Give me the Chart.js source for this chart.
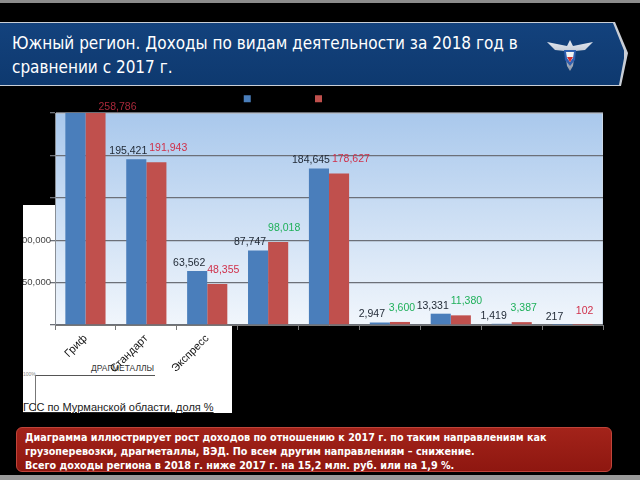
<!DOCTYPE html>
<html lang="ru">
<head>
<meta charset="utf-8">
<script src="https://cdn.jsdelivr.net/npm/chart.js@4.4.1/dist/chart.umd.min.js"></script>
<style>
  html, body { margin: 0; padding: 0; }
  body { width: 640px; height: 480px; background: #000; position: relative; overflow: hidden; font-family: "DejaVu Sans Condensed", "DejaVu Sans", sans-serif; }
  #topstrip { position: absolute; left: 0; top: 0; width: 640px; height: 3px; background: #8c8c8c; }
  #botstrip { position: absolute; left: 0; top: 475px; width: 640px; height: 5px; background: #9a9a9a; }
  #banner { position: absolute; left: 0; top: 22px; width: 628px; height: 64px;
    background: #c9ced6;
    clip-path: polygon(0 0, 615px 0, 628px 31px, 621px 64px, 0 64px); }
  #bannerInner { position: absolute; left: 0; top: 23px; width: 624px; height: 62px;
    background: linear-gradient(#13427d, #0e396f);
    clip-path: polygon(0 0, 613px 0, 625px 30px, 619px 62px, 0 62px); }
  #title { position: absolute; left: 12px; top: 31px; color: #fff; font-size: 17px; line-height: 24px; white-space: nowrap; }
  #logo { position: absolute; left: 545px; top: 36px; width: 50px; height: 36px; }
  #panel { position: absolute; left: 23px; top: 205px; width: 209px; height: 208px; background: #fff; overflow: hidden; }
  #drag { position: absolute; left: 68px; top: 158px; font-family: "Liberation Sans", sans-serif; font-size: 8.5px; color: #333; }
  #hline { position: absolute; left: 12px; top: 170px; width: 120px; height: 1px; background: #555; }
  #vline { position: absolute; left: 12px; top: 170px; width: 1px; height: 36px; background: #777; }
  #pct { position: absolute; left: 0px; top: 166px; font-family: "Liberation Sans", sans-serif; font-size: 5px; color: #888; }
  #gss { position: absolute; left: 0px; top: 196px; font-family: "Liberation Sans", sans-serif; font-size: 11px; color: #222; text-decoration: underline; white-space: nowrap; }
  #chartWrap { position: absolute; left: 23px; top: 88px; width: 600px; height: 330px; }
  #note { position: absolute; left: 16px; top: 427px; width: 596px; height: 45px; box-sizing: border-box;
    background: linear-gradient(#a3231a, #8e1710); border: 1px solid #c0443a; border-radius: 6px;
    color: #fff; font-family: "DejaVu Sans Condensed", sans-serif; font-weight: bold; font-size: 10.7px; line-height: 14px; padding: 3px 0 0 8px; white-space: nowrap; }
</style>
</head>
<body>
<div id="topstrip"></div>
<div id="banner"></div>
<div id="bannerInner"></div>
<div id="title">Южный регион. Доходы по видам деятельности за 2018 год в<br>сравнении с 2017 г.</div>
<svg id="logo" viewBox="0 0 50 36">
  <defs>
    <linearGradient id="wing" x1="0" y1="0" x2="0" y2="1">
      <stop offset="0" stop-color="#e6ebf2"/><stop offset="1" stop-color="#8c97a8"/>
    </linearGradient>
  </defs>
  <path d="M2 6 L22 10 L25 4 L28 10 L48 6 L40 14 L30 15 L28 30 L25 35 L22 30 L20 15 L10 14 Z" fill="url(#wing)"/>
  <path d="M19 14 L31 14 L30 24 L25 30 L20 24 Z" fill="#2f5fb0"/>
  <path d="M21 16 L29 16 L28 22 L25 26 L22 22 Z" fill="#f3f3f3"/>
  <path d="M22 21 L28 21 L25 26 Z" fill="#d33030"/>
</svg>
<div id="panel">
  <div id="drag">ДРАГМЕТАЛЛЫ</div>
  <div id="hline"></div>
  <div id="vline"></div>
  <div id="pct">100%</div>
  <div id="gss">ГСС по Мурманской области, доля %</div>
</div>
<div id="chartWrap"><canvas id="c" width="600" height="330"></canvas></div>
<div id="note">Диаграмма иллюстрирует рост доходов по отношению к 2017 г. по таким направлениям как<br>грузоперевозки, драгметаллы, ВЭД. По всем другим направлениям – снижение.<br>Всего доходы региона в 2018 г. ниже 2017 г. на 15,2 млн. руб. или на 1,9 %.</div>
<div id="botstrip"></div>

<script>
// ---- data ----
const categories = ["Гриф", "Стандарт", "Экспресс", "Грузоперевозки", "Посылки", "Драгметаллы", "Инкассация", "ВЭД", "Прочее"];
const series2017 = [261500, 195421, 63562, 87747, 184645, 2947, 13331, 1419, 217];
const series2018 = [258786, 191943, 48355, 98018, 178627, 3600, 11380, 3387, 102];
const seriesNames = ["2017 год", "2018 год"];
const yTicks = [0, 50000, 100000, 150000, 200000, 250000];

// ---- styles ----
const labelColors2018 = ["#a8283a", "#d0304a", "#d0304a", "#1fb05a", "#d0304a", "#1fb05a", "#1fb05a", "#1fb05a", "#d0304a"];
const visibleXLabels = 3;      // tick labels that lie on the white underlay
const visibleYMax = 100000;    // y tick labels that lie on the white underlay

const bgPlugin = {
  id: "plotBg",
  beforeDraw(chart) {
    const { ctx, chartArea: a } = chart;
    const g = ctx.createLinearGradient(0, a.top, 0, a.bottom);
    g.addColorStop(0, "#a9c8ec");
    g.addColorStop(1, "#f1f6fc");
    ctx.save();
    ctx.fillStyle = g;
    ctx.fillRect(a.left, a.top, a.right - a.left, a.bottom - a.top);
    ctx.strokeStyle = "#c9d6e6";
    ctx.lineWidth = 1;
    ctx.strokeRect(a.left + 0.5, a.top + 0.5, a.right - a.left - 1, a.bottom - a.top);
    ctx.restore();
  }
};

const legendFit = {
  id: "legendFit",
  beforeInit(chart) {
    const fit = chart.legend.fit;
    chart.legend.fit = function () { fit.bind(chart.legend)(); this.height = 25; };
  }
};

const valueLabels = {
  id: "valueLabels",
  afterDatasetsDraw(chart) {
    const { ctx, chartArea: a } = chart;
    ctx.save();
    ctx.font = "10.5px 'Liberation Sans', sans-serif";
    ctx.textAlign = "center";
    ctx.textBaseline = "middle";
    const blueMeta = chart.getDatasetMeta(0).data;
    const redMeta = chart.getDatasetMeta(1).data;
    const d0 = chart.data.datasets[0].data;
    const d1 = chart.data.datasets[1].data;
    blueMeta.forEach((bar, i) => {
      const t0 = d0[i].toLocaleString("en-US");
      const t1 = d1[i].toLocaleString("en-US");
      const bx = bar.x - 8;
      const bRight = bx + ctx.measureText(t0).width / 2;
      if (bar.y >= a.top) {
        ctx.fillStyle = "#1e2733";
        ctx.fillText(t0, bx, bar.y - 8);
      }
      const rb = redMeta[i];
      const half = ctx.measureText(t1).width / 2;
      const clipped = rb.y < a.top;
      let rx = clipped ? rb.x + 22 : Math.max(rb.x + 2, bRight + 2 + half);
      rx = Math.min(rx, a.right - half - 3);
      ctx.fillStyle = labelColors2018[i];
      ctx.fillText(t1, rx, clipped ? a.top - 6 : rb.y - 14);
    });
    ctx.restore();
  }
};

new Chart(document.getElementById("c"), {
  type: "bar",
  data: {
    labels: categories,
    datasets: [
      { label: seriesNames[0], data: series2017, backgroundColor: "#4a7ebb", borderWidth: 0 },
      { label: seriesNames[1], data: series2018, backgroundColor: "#c0504d", borderWidth: 0 }
    ]
  },
  options: {
    responsive: false,
    animation: false,
    layout: { padding: { top: 0, right: 20, left: 0, bottom: 0 } },
    datasets: { bar: { categoryPercentage: 0.66, barPercentage: 1.0 } },
    plugins: {
      legend: {
        display: true,
        position: "top",
        labels: { boxWidth: 7, boxHeight: 7, padding: 4, color: "#000", font: { size: 13.5, family: "Liberation Sans" } }
      },
      tooltip: { enabled: false }
    },
    scales: {
      x: {
        afterFit(s) { s.height = 93; },
        grid: { display: true, drawOnChartArea: false, offset: true, tickLength: 5, color: "#777" },
        border: { display: true, color: "#777" },
        ticks: {
          maxRotation: 45, minRotation: 45, autoSkip: false, padding: 2,
          color: (ctx) => ctx.index < visibleXLabels ? "#111" : "rgba(0,0,0,0)",
          font: { size: 11, family: "Liberation Sans" }
        }
      },
      y: {
        min: 0, max: 250000,
        afterFit(s) { s.width = 32; },
        afterBuildTicks(s) { s.ticks = yTicks.map(v => ({ value: v })); },
        grid: { color: "#6c7078", lineWidth: 1.3, tickLength: 5 },
        border: { display: true, color: "#8a8f96" },
        ticks: {
          padding: -1,
          color: (ctx) => (ctx.tick.value > 0 && ctx.tick.value <= visibleYMax) ? "#444" : "rgba(0,0,0,0)",
          font: { size: 9.5, family: "Liberation Sans" },
          callback: (v) => v.toLocaleString("en-US")
        }
      }
    }
  },
  plugins: [bgPlugin, legendFit, valueLabels]
});
</script>
</body>
</html>
